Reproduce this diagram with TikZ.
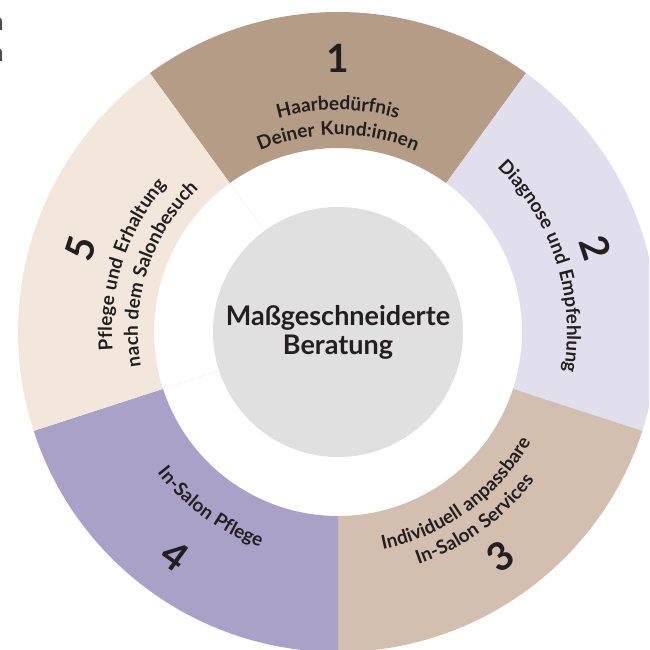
\documentclass[tikz,border=0pt]{standalone}
\usepackage{fontspec}
\setmainfont{Lato}
\newfontfamily\labfont{Lato}[LetterSpace=4.5]
\usetikzlibrary{decorations.text}
\definecolor{segA}{HTML}{B49C87}
\definecolor{segB}{HTML}{E1DFEE}
\definecolor{segC}{HTML}{D2BFAF}
\definecolor{segD}{HTML}{A9A1C8}
\definecolor{segE}{HTML}{F3E6DA}
\definecolor{hub}{HTML}{E0E0E0}
\definecolor{ink}{HTML}{231F20}
\definecolor{faint}{HTML}{F2F2F2}
\newcommand\labsize{\labfont\bfseries\fontsize{19}{19}\selectfont}
\tikzset{
  digit/.style={font=\bfseries\fontsize{39}{39}\selectfont, text=ink, inner sep=0pt},
  curvelabel/.style={decorate, decoration={text along path, text={|\labsize|#1}, text align=center, text color=ink}},
  sepline/.style={draw=faint, line width=0.6pt},
}
\begin{document}
\begin{tikzpicture}[x=1pt,y=1pt]
\useasboundingbox (-338,-318) rectangle (311,332);
\clip (-338,-318) rectangle (311,332);
% ring segments
\fill[segA] (54:184) arc[start angle=54,end angle=126,radius=184] -- (126:320) arc[start angle=126,end angle=54,radius=320] -- cycle;
\fill[segB] (-18:184) arc[start angle=-18,end angle=54,radius=184] -- (54:320) arc[start angle=54,end angle=-18,radius=320] -- cycle;
\fill[segC] (-90:184) arc[start angle=-90,end angle=-18,radius=184] -- (-18:320) arc[start angle=-18,end angle=-90,radius=320] -- cycle;
\fill[segD] (198:184) arc[start angle=198,end angle=270,radius=184] -- (270:320) arc[start angle=270,end angle=198,radius=320] -- cycle;
\fill[segE] (126:184) arc[start angle=126,end angle=198,radius=184] -- (198:320) arc[start angle=198,end angle=126,radius=320] -- cycle;
% faint separators in the white ring
\coordinate (sa1) at (126:125); \coordinate (sa2) at (126:184);
\coordinate (sb1) at (198:125); \coordinate (sb2) at (198:184);
\draw[sepline] (sa1) -- (sa2);
\draw[sepline] (sb1) -- (sb2);
% hub
\node[circle, fill=hub, minimum size=250, inner sep=0pt, align=center,
      font=\bfseries\fontsize{27}{29}\selectfont, text=ink] (hub) at (0,0) {Maßgeschneiderte\\Beratung};
% digits
\node[digit] (n1) at (90:274) {1};
\node[digit, rotate=-72] (n2) at (18:271) {2};
\node[digit, rotate=36] (n3) at (-54:277) {3};
\node[digit, rotate=-36] (n4) at (234:277) {4};
\node[digit, rotate=72] (n5) at (162:271) {5};
% curved labels
\path[curvelabel={Haarbedürfnis}] (126:222) arc[start angle=126,end angle=54,radius=222];
\path[curvelabel={Deiner Kund:innen}] (126:197) arc[start angle=126,end angle=54,radius=197];
\path[curvelabel={Diagnose und Empfehlung}] (54:229) arc[start angle=54,end angle=-18,radius=229];
\path[curvelabel={Individuell anpassbare}] (-90:222) arc[start angle=-90,end angle=-18,radius=222];
\path[curvelabel={In-Salon Services}] (-90:246) arc[start angle=-90,end angle=-18,radius=246];
\path[curvelabel={In-Salon Pflege}] (198:229) arc[start angle=198,end angle=270,radius=229];
\path[curvelabel={Pflege und Erhaltung}] (198:226) arc[start angle=198,end angle=126,radius=226];
\path[curvelabel={nach dem Salonbesuch}] (198:200) arc[start angle=198,end angle=126,radius=200];
% cut-off text at the top left edge
\node[anchor=base east, inner sep=0pt, text=black!70, font=\fontsize{25}{25}\selectfont] (cutA) at (-334,301) {n};
\node[anchor=base east, inner sep=0pt, text=black!70, font=\fontsize{25}{25}\selectfont] (cutB) at (-334,270) {n};
\end{tikzpicture}
\end{document}
